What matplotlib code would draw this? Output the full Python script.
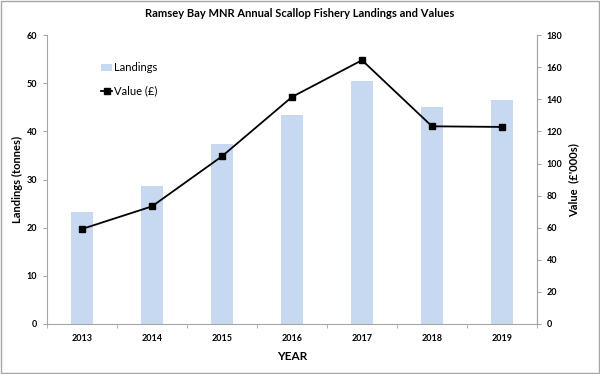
import matplotlib
matplotlib.use('Agg')
import matplotlib.pyplot as plt
from matplotlib.patches import Rectangle
import numpy as np

plt.rcParams['font.family'] = ['Lato', 'DejaVu Sans']

years = ['2013', '2014', '2015', '2016', '2017', '2018', '2019']
landings = [23.2, 28.6, 37.4, 43.4, 50.4, 45.1, 46.5]
values = [59.2, 73.3, 104.5, 141.5, 164.4, 123.2, 122.8]

grey = '#a6a6a6'
fig = plt.figure(figsize=(6, 3.74), dpi=100)
ax = fig.add_axes([0.0783, 0.1337, 0.8167, 0.7723])
x = np.arange(len(years))
ax.bar(x, landings, width=0.31, color='#c6d9f1', label='Landings', zorder=1)
ax.set_xlim(-0.5, len(years) - 0.5)
ax.set_ylim(0, 60)
ax.set_yticks(range(0, 61, 10))
ax.set_xticks(x)
ax.set_xticklabels(years)
# minor ticks between categories like Excel
ax.set_xticks(np.arange(-0.5, len(years), 1.0), minor=True)
ax.tick_params(axis='x', which='major', length=0, pad=7)
ax.tick_params(axis='x', which='minor', length=3, color=grey)
ax.tick_params(axis='y', length=3, color=grey, pad=4)

ax2 = ax.twinx()
ax2.plot(x, values, color='black', lw=1.3, marker='s', ms=5, label='Value (£)')
ax2.set_ylim(0, 180)
ax2.set_yticks(range(0, 181, 20))
ax2.tick_params(axis='y', length=3, color=grey, pad=4)

for a in (ax, ax2):
    a.spines['top'].set_visible(False)
    for s in ('left', 'right', 'bottom'):
        a.spines[s].set_color(grey)
    for lab in a.get_xticklabels() + a.get_yticklabels():
        lab.set_fontsize(6.5)
        lab.set_fontweight('bold')
ax2.spines['left'].set_visible(False)
ax2.spines['bottom'].set_visible(False)

ax.set_ylabel('Landings (tonnes)', fontsize=8, fontweight='bold', labelpad=3)
ax2.set_ylabel('Value  (£\'000s)', fontsize=8, fontweight='bold', labelpad=4)
ax.set_xlabel('YEAR', fontsize=8.5, fontweight='bold', labelpad=6)
fig.text(0.5, 0.963, 'Ramsey Bay MNR Annual Scallop Fishery Landings and Values',
         ha='center', va='center', fontsize=8, fontweight='bold')

h1, l1 = ax.get_legend_handles_labels()
h2, l2 = ax2.get_legend_handles_labels()
ax.legend(h1 + h2, l1 + l2, loc='upper left', bbox_to_anchor=(0.09, 0.94),
          frameon=False, fontsize=8, handlelength=1.0, handletextpad=0.2,
          labelspacing=1.1)

fig.patches.append(Rectangle((0.002, 0.003), 0.996, 0.994, transform=fig.transFigure,
                             fill=False, edgecolor=grey, lw=1))
fig.savefig('out.png', dpi=100)
